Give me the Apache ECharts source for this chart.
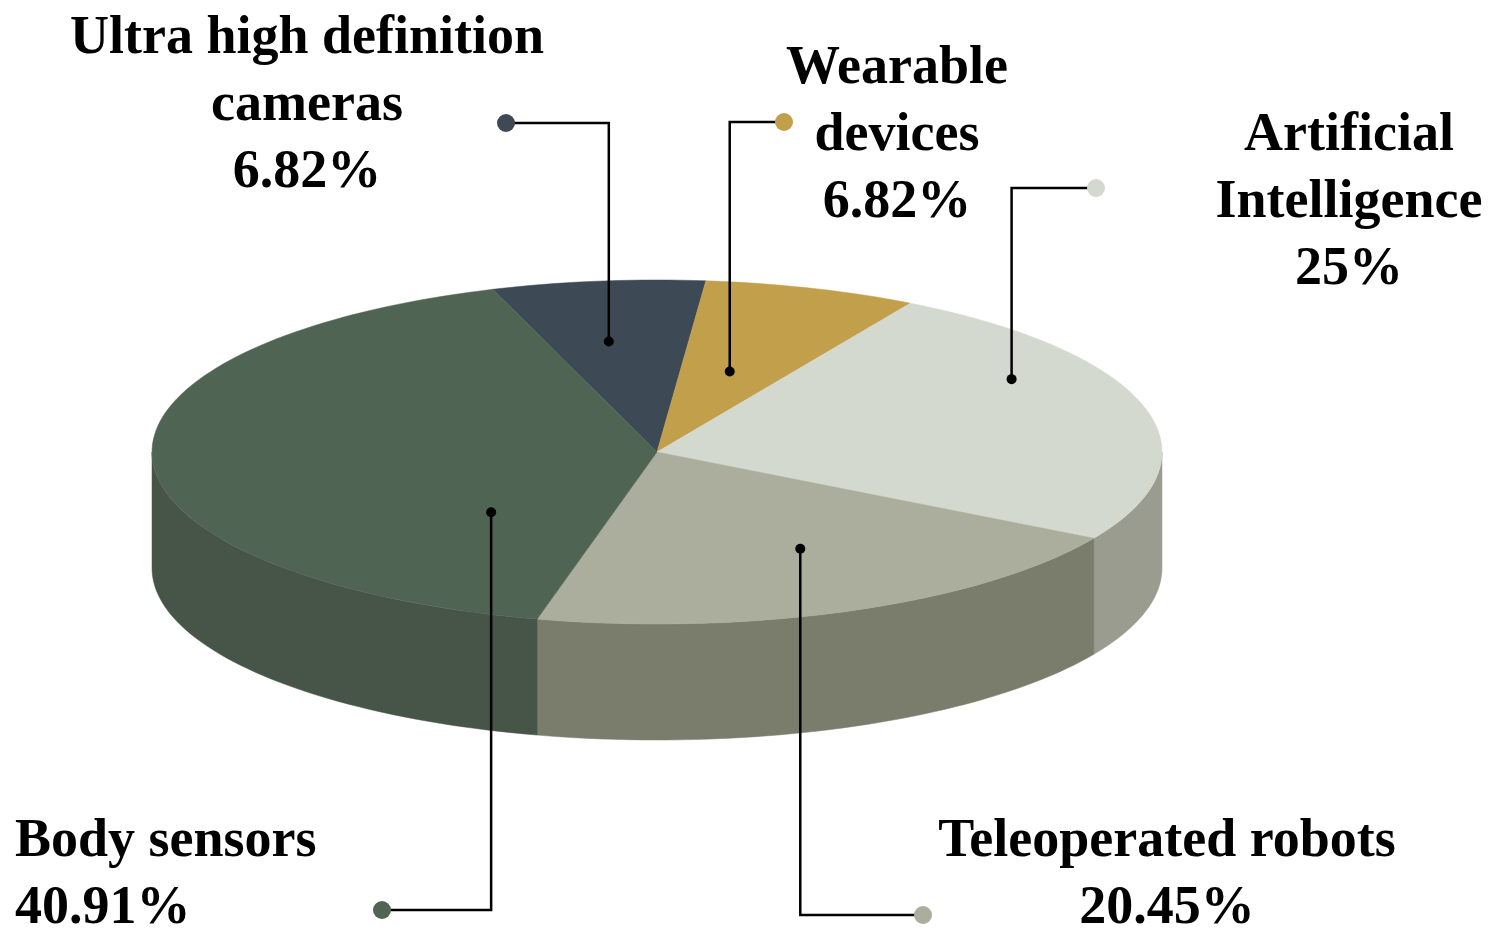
<!DOCTYPE html>
<html>
<head>
<meta charset="utf-8">
<script src="https://cdn.jsdelivr.net/npm/echarts@6/dist/echarts.min.js"></script>
<style>html,body{margin:0;background:#fff}#main{width:1502px;height:952px}</style>
</head>
<body>
<div id="main"></div>
<script>
var names = ['Ultra high definition\ncameras', 'Wearable\ndevices', 'Artificial\nIntelligence', 'Teleoperated robots', 'Body sensors'];
var values = [6.82, 6.82, 25, 20.45, 40.91];
var topColors = ['#3d4a56', '#c29f4a', '#d4d9cf', '#abae9c', '#506454'];
var sideColors = ['#2f3943', '#96793a', '#9a9c90', '#7a7c6c', '#465548'];

// pin position inside each slice: [fraction along the slice, fraction of radius]
var pins = [[0.43, 0.65], [0.47, 0.49], [0.32, 0.82], [0.45, 0.63], [0.2, 0.48]];
// label layout: [text x, text y(top), align, leader y, dot x]
var labelPos = [
  [307, 6, 'center', 123, 506],
  [897, 36, 'center', 122, 784],
  [1349, 103, 'center', 188, 1096],
  [1167, 809, 'center', 915, 923],
  [15, 809, 'left', 910, 382]
];

var cx = 657, cy = 452, rx = 505, ry = 172, depth = 116, startDeg = 109;
var total = values.reduce(function (a, b) { return a + b; }, 0);

function pt(t, dy) {
  var r = t * Math.PI / 180;
  return [cx + rx * Math.cos(r), cy - ry * Math.sin(r) + (dy || 0)];
}
function arc(t1, t2, dy) {
  var pts = [], n = Math.max(2, Math.ceil(Math.abs(t2 - t1) / 1.5));
  for (var i = 0; i <= n; i++) pts.push(pt(t1 + (t2 - t1) * i / n, dy));
  return pts;
}

function renderItem(params, api) {
  var i = params.dataIndex;
  var before = 0;
  for (var k = 0; k < i; k++) before += values[k];
  var t1 = startDeg - before / total * 360;
  var t2 = t1 - api.value(0) / total * 360;
  var children = [];
  // side wall: visible front half, angles between -180 and 0 (mod 360)
  [0, -360].forEach(function (off) {
    var a = Math.min(t1 + off, 0), b = Math.max(t2 + off, -180);
    if (a > b) {
      var topArc = arc(a, b, 0), botArc = arc(b, a, depth);
      children.push({ type: 'polygon', z2: 1, shape: { points: topArc.concat(botArc) },
        style: { fill: sideColors[i], stroke: sideColors[i], lineWidth: 0.5 } });
    }
  });
  children.push({ type: 'polygon', z2: 5, shape: { points: [[cx, cy]].concat(arc(t1, t2, 0)) },
    style: { fill: topColors[i], stroke: topColors[i], lineWidth: 0.5 } });
  // leader
  var ang = (t1 + (t2 - t1) * pins[i][0]) * Math.PI / 180;
  var p = [cx + rx * pins[i][1] * Math.cos(ang), cy - ry * pins[i][1] * Math.sin(ang)];
  var L = labelPos[i];
  children.push({ type: 'polyline', z2: 20, shape: { points: [p, [p[0], L[3]], [L[4], L[3]]] },
    style: { stroke: '#000', lineWidth: 2.5, fill: null } });
  children.push({ type: 'circle', z2: 21, shape: { cx: p[0], cy: p[1], r: 5 }, style: { fill: '#000' } });
  children.push({ type: 'circle', z2: 21, shape: { cx: L[4], cy: L[3], r: 9 }, style: { fill: topColors[i] } });
  children.push({ type: 'text', z2: 22, style: {
    x: L[0], y: L[1], text: names[i] + '\n' + values[i] + '%', align: L[2], verticalAlign: 'top',
    font: 'bold 54px "Liberation Serif", "DejaVu Serif", serif', lineHeight: 67, fill: '#000' } });
  return { type: 'group', children: children };
}

var chart = echarts.init(document.getElementById('main'));
chart.setOption({
  animation: false,
  series: [{
    type: 'custom',
    coordinateSystem: 'none',
    renderItem: renderItem,
    data: values.map(function (v) { return [v]; })
  }]
});
</script>
</body>
</html>
